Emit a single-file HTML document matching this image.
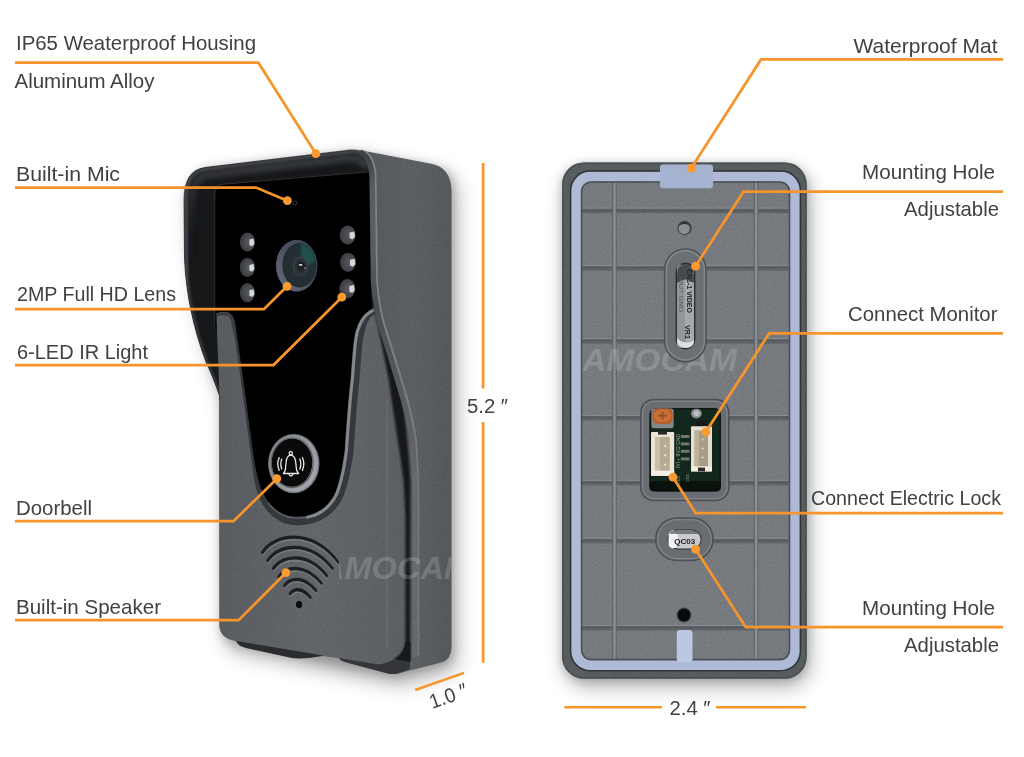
<!DOCTYPE html>
<html lang="en">
<head>
<meta charset="utf-8">
<title>Video Doorbell – Product Details</title>
<style>
  html, body { margin: 0; padding: 0; background: #ffffff; }
  body { width: 1024px; height: 757px; overflow: hidden; position: relative;
         font-family: "Liberation Sans", sans-serif; }
  svg { position: absolute; left: 0; top: 0; display: block; }
  .lbl { font-family: "Liberation Sans", sans-serif; font-size: 20.3px; fill: #414143; }
  .ln { fill: none; stroke: #f7942c; stroke-width: 2.75; stroke-linejoin: miter; stroke-linecap: butt; }
  .dot { fill: #fb9a30; }
</style>
</head>
<body>
<svg width="1024" height="757" viewBox="0 0 1024 757">
  <defs>
    <filter id="blur10" x="-30%" y="-30%" width="160%" height="160%"><feGaussianBlur stdDeviation="10"/></filter>
    <filter id="blur06" x="-30%" y="-10%" width="160%" height="120%"><feGaussianBlur stdDeviation="0.8"/></filter>
    <filter id="blur8" x="-30%" y="-30%" width="160%" height="160%"><feGaussianBlur stdDeviation="8"/></filter>
    <filter id="blur5" x="-30%" y="-30%" width="160%" height="160%"><feGaussianBlur stdDeviation="5"/></filter>
    <filter id="blur2" x="-30%" y="-30%" width="160%" height="160%"><feGaussianBlur stdDeviation="2"/></filter>
    <filter id="blur1" x="-30%" y="-30%" width="160%" height="160%"><feGaussianBlur stdDeviation="1"/></filter>
    <filter id="grain" x="0" y="0" width="100%" height="100%">
      <feTurbulence type="fractalNoise" baseFrequency="0.9" numOctaves="2" seed="3" result="n"/>
      <feColorMatrix in="n" type="matrix" values="0 0 0 0 1  0 0 0 0 1  0 0 0 0 1  0.9 0.9 0.9 0 -1.05" result="a"/>
      <feComposite in="a" in2="SourceGraphic" operator="in"/>
    </filter>
    <linearGradient id="gSide" gradientUnits="userSpaceOnUse" x1="372" y1="0" x2="452" y2="0">
      <stop offset="0" stop-color="#565a5d"/>
      <stop offset="0.5" stop-color="#5b5e62"/>
      <stop offset="1" stop-color="#54575b"/>
    </linearGradient>
    <linearGradient id="gFace" gradientUnits="userSpaceOnUse" x1="219" y1="0" x2="406" y2="0">
      <stop offset="0" stop-color="#585b60"/>
      <stop offset="0.5" stop-color="#626569"/>
      <stop offset="1" stop-color="#5b5e62"/>
    </linearGradient>
    <linearGradient id="gHoodTop" x1="0" y1="0" x2="0" y2="1">
      <stop offset="0" stop-color="#3a3d41"/>
      <stop offset="0.35" stop-color="#25272a"/>
      <stop offset="1" stop-color="#0c0d0e"/>
    </linearGradient>
    <radialGradient id="gLed" cx="0.6" cy="0.5" r="0.75">
      <stop offset="0" stop-color="#5a5c63"/>
      <stop offset="0.5" stop-color="#44464c"/>
      <stop offset="1" stop-color="#2e2f34"/>
    </radialGradient>
    <linearGradient id="gBtn" x1="0" y1="0" x2="1" y2="1">
      <stop offset="0" stop-color="#7d8086"/>
      <stop offset="0.5" stop-color="#95989e"/>
      <stop offset="1" stop-color="#a6a9ae"/>
    </linearGradient>
    <linearGradient id="gLensRing" x1="0" y1="1" x2="1" y2="0">
      <stop offset="0" stop-color="#666b7c"/>
      <stop offset="0.5" stop-color="#4e5264"/>
      <stop offset="1" stop-color="#3e4252"/>
    </linearGradient>
    <filter id="blur04" x="-30%" y="-30%" width="160%" height="160%"><feGaussianBlur stdDeviation="0.5"/></filter>
    <radialGradient id="gLens" cx="0.5" cy="0.5" r="0.5">
      <stop offset="0" stop-color="#2f383d"/>
      <stop offset="0.45" stop-color="#253035"/>
      <stop offset="1" stop-color="#222c31"/>
    </radialGradient>
    <linearGradient id="gRidge" gradientUnits="userSpaceOnUse" x1="0" y1="150" x2="0" y2="480">
      <stop offset="0" stop-color="#3a3d41"/>
      <stop offset="0.12" stop-color="#5a5d61"/>
      <stop offset="0.3" stop-color="#595c60"/>
      <stop offset="0.48" stop-color="#494c50"/>
      <stop offset="1" stop-color="#65686c"/>
    </linearGradient>
    <linearGradient id="gRidgeHi" gradientUnits="userSpaceOnUse" x1="0" y1="260" x2="0" y2="480">
      <stop offset="0" stop-color="#85888c"/>
      <stop offset="1" stop-color="#75787c"/>
    </linearGradient>
  <linearGradient id="gLip" gradientUnits="userSpaceOnUse" x1="0" y1="165" x2="0" y2="235">
      <stop offset="0" stop-color="#33363a"/>
      <stop offset="1" stop-color="#17181a"/>
    </linearGradient>
    <filter id="noise" x="0" y="0" width="100%" height="100%" color-interpolation-filters="sRGB">
      <feTurbulence type="fractalNoise" baseFrequency="0.55" numOctaves="3" seed="7" result="n"/>
      <feColorMatrix in="n" type="matrix" values="0.6 0.6 0.6 0 -0.4  0.6 0.6 0.6 0 -0.4  0.6 0.6 0.6 0 -0.4  0 0 0 0 1"/>
    </filter>
    <clipPath id="clipGrainFront">
      <path d="M219.5,396 L216.5,318 Q216.5,312 221,312 L226.5,312.2 Q233.4,313.5 235,325 L236,332 C240.5,362 247,410 251,441 C255,470 258,485 263,494 C272,512 285,517 296,517 C310,517 326,512 335,494 C340,482 343,465 345,450 C347,420 349,395 351,378 C353,350 354,335 357,328 Q362,313 374,308.5 L377,322 Q382,345 388.8,380 Q393,410 397,435 Q401,460 403.8,483 L405.5,520 L405.5,640 Q405.5,655 385,663 Q380,665 375,664 L236,641 Q220,638 219.5,626 Z"/>
      <path d="M362,150.5 L430,163.6 Q451.5,167 451.5,192 L451.5,648 Q451,660 441,662.5 L398,673.5 L412,662 L412,500 Q412,470 409.5,440 Q406,415 397,385 Q388,356 380,330 Q374,312 373,282 L372,176 Q370,155 362,150.5 Z"/>
    </clipPath>
    <clipPath id="clipGrainBack">
      <rect x="562" y="162.4" width="244.8" height="516.4" rx="22" ry="22"/>
    </clipPath>
  <clipPath id="clipFront"><rect x="339" y="540" width="112.5" height="60"/></clipPath>
  </defs>

  <rect x="0" y="0" width="1024" height="757" fill="#ffffff"/>

  <!-- ===================== SHADOWS ===================== -->
  <g id="shadows">
    <path d="M186,200 Q186,168 208,166 L353,149 L438,165 Q452,168 452,186 L452,650 Q452,662 440,664 L394,676 L236,644 Q220,640 220,626 L220,395 Q186,300 186,200 Z"
          fill="#000" opacity="0.30" filter="url(#blur10)" transform="translate(5,9)"/>
    <path d="M186,200 Q186,168 208,166 L353,149 L438,165 Q452,168 452,186 L452,650 Q452,662 440,664 L394,676 L236,644 Q220,640 220,626 L220,395 Q186,300 186,200 Z"
          fill="#000" opacity="0.17" filter="url(#blur5)" transform="translate(1,2)"/>
    <rect x="562" y="163" width="245" height="516" rx="22" fill="#000" opacity="0.30" filter="url(#blur10)" transform="translate(3,8)"/>
    <rect x="562" y="163" width="245" height="516" rx="22" fill="#000" opacity="0.17" filter="url(#blur5)" transform="translate(0,1)"/>
  </g>

  <!-- ===================== FRONT UNIT ===================== -->
  <g id="front-unit">
    <!-- full silhouette / shell -->
    <path id="shell" d="M183.5,200 Q183.5,170 205,167 L350,149.5 Q356,149 362,150.5 L430,163.6 Q451.5,167 451.5,192 L451.5,648 Q451,660 441,662.5 L398,673.5 Q393,674.5 388,673.5 L345,662 Q340,660 339,658 L323,656 Q305,659 292,657.5 L245,647 Q238,645 236,641 Q220,638 219.5,626 L219,395 Q214,380 205.5,362 Q186,310 184,258 Z"
          fill="url(#gSide)"/>
    <!-- hood interior (dark) -->
    <clipPath id="clipHood"><path d="M184.5,200 Q184.5,170 205,167.6 L350,150.2 Q364,150 370,165 Q374,176 374,190 L374,400 L219,400 L219,395 Q214,380 206,362 Q186.5,310 184.5,258 Z"/></clipPath>
    <path d="M184.5,200 Q184.5,170 205,167.6 L350,150.2 Q364,150 370,165 Q374,176 374,190 L374,400 L219,400 L219,395 Q214,380 206,362 Q186.5,310 184.5,258 Z" fill="#17181a"/>
    <g clip-path="url(#clipHood)">
      <!-- hood top lip -->
      <path d="M190,260 L190,215 Q190,177 207,174.5 L350,157.5 Q362,157 367,168" fill="none" stroke="url(#gLip)" stroke-width="9" filter="url(#blur2)"/>
      <path d="M186.5,300 L186,200 Q186,171.5 205.5,169 L350,151.6 Q360,151.2 366,156" fill="none" stroke="#4d5054" stroke-width="2.6" filter="url(#blur1)"/>
      <path d="M185.7,260 Q188,310 207,362 Q215,380 220,395" fill="none" stroke="#3e4145" stroke-width="2.4" filter="url(#blur1)"/>
    </g>
    <!-- glass panel -->
    <path d="M214.5,196 Q214.5,185 223,184 L369,171.5 L372,330 L372,520 L230,520 L230,330 L214.5,330 Z" fill="#000000"/>
    <path d="M214.8,330 L214.8,196 Q214.8,185 223,184.2 L369,171.8" fill="none" stroke="#3a3d42" stroke-width="0.9" opacity="0.9"/>

    <!-- face (raised front) with U cut-out -->
    <path id="face" d="M219.5,396 L216.5,318 Q216.5,312 221,312 L226.5,312.2 Q233.4,313.5 235,325 L236,332 C240.5,362 247,410 251,441 C255,470 258,485 263,494 C272,512 285,517 296,517 C310,517 326,512 335,494 C340,482 343,465 345,450 C347,420 349,395 351,378 C353,350 354,335 357,328 Q362,313 374,308.5 L377,322 Q382,345 388.8,380 Q393,410 397,435 Q401,460 403.8,483 L405.5,520 L405.5,640 Q405.5,655 385,663 Q380,665 375,664 L236,641 Q220,638 219.5,626 Z"
          fill="url(#gFace)"/>
    <!-- groove shadow around U cut-out -->
    <!--GEN:ugroove-->
    <path d="M226.6,311.8 L227.8,312.1 L229.0,312.7 L230.1,313.3 L231.1,314.2 L232.0,315.2 L232.8,316.5 L233.5,317.8 L234.1,319.4 L234.6,321.1 L235.1,322.9 L235.4,324.9 L235.5,325.4 L235.5,325.8 L235.6,326.2 L235.7,326.7 L235.7,327.2 L235.8,327.7 L235.9,328.2 L235.9,328.7 L236.0,329.2 L236.1,329.7 L236.1,330.2 L236.2,330.6 L236.3,331.1 L236.3,331.5 L236.4,331.9 L237.3,338.2 L238.3,344.8 L239.3,351.8 L240.3,359.1 L241.4,366.6 L242.5,374.3 L243.5,382.1 L244.6,390.0 L245.7,397.8 L246.7,405.6 L247.7,413.2 L248.7,420.6 L249.7,427.7 L250.6,434.5 L251.4,440.9 L252.2,446.6 L252.9,451.8 L253.7,456.7 L254.4,461.3 L255.2,465.6 L255.9,469.5 L256.6,473.2 L257.4,476.6 L258.2,479.7 L258.9,482.6 L259.8,485.2 L260.6,487.7 L261.5,489.9 L262.4,491.9 L263.4,493.8 L265.2,497.2 L267.1,500.3 L269.1,503.1 L271.2,505.5 L273.4,507.7 L275.6,509.6 L277.8,511.2 L280.1,512.6 L282.4,513.7 L284.7,514.7 L287.0,515.4 L289.3,515.9 L291.6,516.3 L293.8,516.5 L296.0,516.6 L298.8,516.5 L301.6,516.3 L304.5,515.9 L307.4,515.4 L310.2,514.7 L313.0,513.7 L315.8,512.6 L318.5,511.2 L321.2,509.5 L323.7,507.7 L326.2,505.5 L328.5,503.0 L330.7,500.3 L332.8,497.2 L334.6,493.8 L335.6,491.4 L336.5,488.8 L337.4,486.1 L338.2,483.4 L339.0,480.5 L339.7,477.6 L340.4,474.6 L341.1,471.5 L341.7,468.4 L342.2,465.3 L342.8,462.2 L343.3,459.1 L343.7,456.0 L344.2,453.0 L344.6,450.0 L345.0,444.0 L345.4,438.2 L345.8,432.6 L346.2,427.1 L346.6,421.7 L347.0,416.6 L347.4,411.5 L347.8,406.7 L348.2,402.0 L348.6,397.5 L349.0,393.2 L349.4,389.1 L349.8,385.2 L350.2,381.5 L350.6,378.0 L351.0,372.5 L351.4,367.5 L351.7,362.7 L352.0,358.2 L352.4,354.1 L352.7,350.3 L353.1,346.7 L353.4,343.5 L353.8,340.5 L354.2,337.8 L354.6,335.3 L355.0,333.1 L355.5,331.1 L356.0,329.4 L356.6,327.9 L357.6,325.2 L358.7,322.7 L359.9,320.4 L361.2,318.3 L362.7,316.3 L364.2,314.5 L365.9,312.9 L367.7,311.4 L369.7,310.1 L371.7,309.0 L373.8,308.1 L376.2,313.6 L374.3,314.5 L372.8,315.4 L371.5,316.5 L370.3,317.8 L369.2,319.2 L368.2,320.7 L367.4,322.4 L366.7,324.3 L366.0,326.2 L365.4,328.4 L364.8,330.9 L364.4,332.2 L364.1,333.5 L363.8,335.1 L363.4,337.0 L363.1,339.2 L362.7,341.7 L362.3,344.5 L362.0,347.7 L361.7,351.1 L361.3,354.9 L361.0,359.0 L360.7,363.4 L360.3,368.1 L360.0,373.2 L359.6,378.8 L359.1,382.5 L358.8,386.1 L358.4,390.0 L358.0,394.1 L357.6,398.3 L357.2,402.8 L356.8,407.4 L356.4,412.3 L356.0,417.3 L355.6,422.4 L355.2,427.8 L354.8,433.2 L354.4,438.9 L354.0,444.7 L353.6,450.8 L353.1,454.2 L352.7,457.4 L352.2,460.5 L351.6,463.7 L351.1,466.9 L350.5,470.1 L349.9,473.3 L349.2,476.5 L348.5,479.7 L347.7,482.8 L346.9,485.8 L346.0,488.8 L345.0,491.7 L344.0,494.6 L342.7,497.8 L340.5,501.9 L338.0,505.6 L335.3,508.9 L332.4,512.0 L329.4,514.6 L326.2,517.0 L323.0,519.0 L319.6,520.7 L316.2,522.1 L312.8,523.3 L309.3,524.1 L305.9,524.7 L302.6,525.1 L299.2,525.3 L296.0,525.2 L293.3,525.0 L290.5,524.6 L287.7,524.0 L284.8,523.2 L282.0,522.1 L279.2,520.7 L276.5,519.1 L273.8,517.2 L271.2,515.1 L268.8,512.6 L266.5,509.9 L264.3,506.9 L262.3,503.6 L260.4,500.0 L258.8,496.2 L257.9,494.1 L257.1,491.7 L256.4,489.2 L255.7,486.6 L255.1,483.7 L254.5,480.7 L253.9,477.4 L253.4,473.9 L252.9,470.1 L252.4,466.1 L251.8,461.7 L251.2,457.1 L250.6,452.2 L249.8,446.9 L249.0,441.3 L248.2,434.8 L247.3,428.0 L246.4,420.9 L245.4,413.5 L244.4,405.9 L243.3,398.1 L242.2,390.3 L241.2,382.5 L240.1,374.7 L239.0,367.0 L238.0,359.5 L236.9,352.2 L235.9,345.2 L234.9,338.5 L234.0,332.3 L234.0,331.9 L233.9,331.4 L233.8,331.0 L233.8,330.5 L233.7,330.0 L233.6,329.5 L233.6,329.0 L233.5,328.5 L233.4,328.0 L233.3,327.5 L233.3,327.1 L233.2,326.6 L233.1,326.1 L233.1,325.7 L233.0,325.3 L232.7,323.4 L232.3,321.7 L231.8,320.1 L231.3,318.8 L230.7,317.7 L230.1,316.7 L229.4,315.9 L228.7,315.3 L227.9,314.8 L227.1,314.4 L226.0,314.1 Z" fill="#34373b"/>
    <path d="M268.7,503.4 L270.8,505.9 L272.9,508.1 L275.1,510.1 L277.4,511.8 L279.7,513.3 L282.0,514.6 L284.4,515.6 L286.7,516.4 L289.1,517.1 L291.4,517.5 L293.7,517.8 L296.0,518.0 L298.9,518.0 L301.8,517.9 L304.8,517.6 L307.8,517.1 L310.7,516.4" fill="none" stroke="#5c5f63" stroke-width="1.6" stroke-linecap="round"/>
    <path d="M307.8,517.1 L310.7,516.4 L313.7,515.5 L316.6,514.3 L319.5,512.9 L322.3,511.2 L325.0,509.2 L327.6,506.9 L330.0,504.3 L332.3,501.4 L334.4,498.2 L336.4,494.7 L337.4,492.1 L338.4,489.4 L339.2,486.7 L340.1,483.9 L340.9,481.0 L341.6,478.0 L342.3,475.0 L343.0,471.9 L343.6,468.8 L344.2,465.7 L344.7,462.5 L345.2,459.4 L345.7,456.3 L346.1,453.2 L346.5,450.1 L346.9,444.2 L347.3,438.4 L347.7,432.7 L348.1,427.2 L348.5,421.9 L348.9,416.7 L349.3,411.7 L349.7,406.9 L350.1,402.2 L350.5,397.7 L350.9,393.4 L351.3,389.3 L351.7,385.4 L352.1,381.7 L352.5,378.1 L352.9,372.7 L353.3,367.6 L353.6,362.8 L354.0,358.4 L354.3,354.3 L354.7,350.5 L355.0,346.9 L355.3,343.7 L355.7,340.8 L356.1,338.1 L356.5,335.7 L356.9,333.5 L357.4,331.6 L357.9,330.0 L358.5,328.5 L359.4,325.9 L360.4,323.6 L361.6,321.4 L362.8,319.3 L364.2,317.5 L365.7,315.8 L367.2,314.3 L368.9,313.0 L370.7,311.8 L372.5,310.8 L374.6,309.9" fill="none" stroke="#84878b" stroke-width="3" stroke-linecap="round"/>
    <!--/GEN:ugroove-->

    <path d="M217.2,314.2 L226.3,313.8 Q232.4,315 233.6,325.5 L234.6,332" fill="none" stroke="#3a3d41" stroke-width="3" stroke-linecap="round"/>
    <!-- dark groove between face and shell -->
    <path d="M377,322 Q382,345 388.8,380 Q393,410 397,435 Q401,460 403.8,483 L405.5,520 L405.5,640 Q405.5,652 395,659 L398,664 L410,660 L410.5,483 Q409,450 401,383 Q392,355 384.5,328 Q379,310 376.5,280 L374,308.5 Z" fill="#17181b" filter="url(#blur06)"/>
    <!-- shell ridge highlight -->
    <path d="M361,150.5 Q372,153 375,172 L376.5,280 Q379,310 385,328 Q394,356 402,383 Q412,415 415.5,440 Q418,470 418,500 L418,655"
          fill="none" stroke="url(#gRidgeHi)" stroke-width="2.8" opacity="0.9"/>
    <path d="M360,152.5 Q370.5,156 372.2,176 L373.5,282 Q376,312 382,330 Q391,358 399,385 Q409,417 412.5,442 Q415,470 415,500 L415,657"
          fill="none" stroke="url(#gRidge)" stroke-width="5.4" opacity="1"/>
    <!-- subtle vertical seam on face -->
    <path d="M387,400 L387,648" fill="none" stroke="#8a8d92" stroke-width="0.7" opacity="0.55"/>

    <!-- base pieces under face -->
    <path d="M236,641 L323,655.5 Q305,659.5 292,658 L246,648 Q238,646 236,641 Z" fill="#2a2c2f"/>
    <path d="M339,658 L375,664 Q382,665.5 395,659 L410,660 L410,669 L398,673.5 Q393,674.5 388,673.5 L345,662 Q340,660.5 339,658 Z" fill="#34363a"/>
    <path d="M395,659 Q404,654 405.5,642 L410.5,642 L410.5,662 Z" fill="#17181a"/>
    <!-- surface grain -->
    <g clip-path="url(#clipGrainFront)" style="mix-blend-mode:overlay" opacity="0.09">
      <rect x="180" y="145" width="275" height="535" filter="url(#noise)"/>
    </g>
    <!-- ====== front details ====== -->
    <!-- mic hole -->
    <circle cx="295" cy="203" r="1.9" fill="none" stroke="#3a3c40" stroke-width="0.9"/>
    <!-- IR LEDs -->
    <g id="leds">
      <ellipse cx="247.4" cy="242" rx="7.6" ry="9.6" fill="url(#gLed)"/>
      <ellipse cx="247.4" cy="267.4" rx="7.6" ry="9.6" fill="url(#gLed)"/>
      <ellipse cx="247.4" cy="292.7" rx="7.6" ry="9.6" fill="url(#gLed)"/>
      <ellipse cx="347.6" cy="235" rx="8" ry="9.6" fill="url(#gLed)"/>
      <ellipse cx="348" cy="262.3" rx="8" ry="9.6" fill="url(#gLed)"/>
      <ellipse cx="347.3" cy="288.6" rx="8" ry="9.6" fill="url(#gLed)"/>
      <g fill="#d4d6da" filter="url(#blur04)">
        <path d="M249.4,239.6 l4.2,-1 l0.8,5.2 l-2.4,2.6 l-2.6,-1.4 Z"/>
        <path d="M249.4,265 l4.2,-1 l0.8,5.2 l-2.4,2.6 l-2.6,-1.4 Z"/>
        <path d="M249.4,290.3 l4.2,-1 l0.8,5.2 l-2.4,2.6 l-2.6,-1.4 Z"/>
        <path d="M349.6,232.4 l4.6,-1 l0.8,5.4 l-2.6,2.6 l-2.8,-1.4 Z"/>
        <path d="M350,259.8 l4.6,-1 l0.8,5.4 l-2.6,2.6 l-2.8,-1.4 Z"/>
        <path d="M349.3,286 l4.6,-1 l0.8,5.4 l-2.6,2.6 l-2.8,-1.4 Z"/>
      </g>
    </g>
    <!-- camera lens -->
    <ellipse cx="296.7" cy="265.8" rx="20.7" ry="26" fill="#42465a"/>
    <ellipse cx="296.2" cy="265.6" rx="20" ry="25.4" fill="url(#gLensRing)"/>
    <ellipse cx="299.4" cy="265.2" rx="17" ry="22.2" fill="url(#gLens)"/>
    <path d="M301,243.4 A16.6,21.8 0 0 1 315.6,262 L305,265.5 Q299.5,255 301,243.4 Z" fill="#1f6a5c" opacity="0.6" filter="url(#blur1)"/>
    <ellipse cx="300.6" cy="266.4" rx="7.2" ry="9" fill="#2c3236" stroke="#454b50" stroke-width="0.8"/>
    <ellipse cx="301" cy="266.4" rx="4" ry="5" fill="#1b2023"/>
    <rect x="298.8" y="264" width="3.6" height="1.7" rx="0.8" fill="#dfe1e4" opacity="0.9"/>
    <rect x="304" y="267.6" width="2.2" height="1.1" rx="0.5" fill="#aeb2b6" opacity="0.7"/>
    <!-- doorbell button -->
    <ellipse cx="293.8" cy="463.6" rx="25.7" ry="29.6" fill="#6f7278"/>
    <ellipse cx="293.5" cy="463.3" rx="24.6" ry="28.5" fill="url(#gBtn)"/>
    <ellipse cx="292" cy="462.6" rx="20.4" ry="24.2" fill="#0a0a0b"/>
    <ellipse cx="292.2" cy="462.8" rx="21" ry="24.8" fill="none" stroke="#5d6065" stroke-width="1.2"/>
    <g fill="none" stroke="#e9e9eb" stroke-width="1.3" stroke-linecap="round" stroke-linejoin="round">
      <path d="M283.4,473.5 L298.6,473.5 Q297.2,472.2 296.5,469.5 L295.6,461.5 Q294.8,455.6 290.8,455.2 Q286.9,455.6 286.2,461.5 L285.4,469.5 Q284.8,472.2 283.4,473.5 Z"/>
      <circle cx="290.8" cy="453.2" r="1.6"/>
      <path d="M289.2,474.6 Q291,477.2 292.8,474.6"/>
      <path d="M281.8,459 Q279.8,464 281.8,469"/>
      <path d="M279.2,457.6 Q276.4,464 279.2,470.4"/>
      <path d="M299.8,459 Q301.8,464 299.8,469"/>
      <path d="M302.4,457.6 Q305.2,464 302.4,470.4"/>
    </g>
    <!-- speaker grille -->
    <g id="speaker" fill="none" stroke-linecap="round">
      <g stroke="#1d1f22" stroke-width="3.3">
        <path d="M262.6,552.4 C275,533 312,528 337.6,562"/>
        <path d="M268,560.4 C279,543.5 310,540 332,568.4"/>
        <path d="M273.6,568.4 C283,554.5 308,552 326.4,575.8"/>
        <path d="M279,576.6 C287,565.5 306,564 321,583.2"/>
        <path d="M284.8,585.4 C290.5,577 304,576 315.6,590.6"/>
        <path d="M290.4,593.6 C294.5,588 302.5,587.6 310,597.6"/>
      </g>
      <g stroke="#84878c" stroke-width="1.1" opacity="0.75" transform="translate(0.3,2.7)">
        <path d="M262.6,552.4 C275,533 312,528 337.6,562"/>
        <path d="M268,560.4 C279,543.5 310,540 332,568.4"/>
        <path d="M273.6,568.4 C283,554.5 308,552 326.4,575.8"/>
        <path d="M279,576.6 C287,565.5 306,564 321,583.2"/>
        <path d="M284.8,585.4 C290.5,577 304,576 315.6,590.6"/>
        <path d="M290.4,593.6 C294.5,588 302.5,587.6 310,597.6"/>
      </g>
    </g>
    <ellipse cx="299.1" cy="604.6" rx="3.2" ry="3.8" fill="#0b0c0d"/>
    <ellipse cx="299.1" cy="604.6" rx="4" ry="4.6" fill="none" stroke="#6f7277" stroke-width="0.8" opacity="0.7"/>
    <!-- watermark -->
    <text x="321" y="579" textLength="150" lengthAdjust="spacingAndGlyphs" font-family="Liberation Sans, sans-serif" font-weight="bold" font-style="italic" font-size="31" fill="#ffffff" opacity="0.17" clip-path="url(#clipFront)">AMOCAM</text>
  </g>

  <!-- ===================== BACK UNIT ===================== -->
  <g id="back-unit">
    <!-- outer frame -->
    <rect x="562" y="162.4" width="244.8" height="516.4" rx="22" ry="22" fill="#575c5f"/>
    <rect x="563" y="163.4" width="242.8" height="514.4" rx="21" ry="21" fill="none" stroke="#4a4f52" stroke-width="1.6" opacity="0.9"/>
    <!-- inner plate -->
    <rect x="578" y="179" width="214" height="484" rx="12" ry="12" fill="#767a7e"/>
    <!-- ribs -->
    <rect x="581" y="208.6" width="207.5" height="3.4" fill="#595d61"/>
    <rect x="581" y="207.6" width="207.5" height="1" fill="#8d9195" opacity="0.8"/>
    <rect x="581" y="212.0" width="207.5" height="1.3" fill="#54585c" opacity="0.6"/>
    <rect x="581" y="266.1" width="207.5" height="3.4" fill="#595d61"/>
    <rect x="581" y="265.1" width="207.5" height="1" fill="#8d9195" opacity="0.8"/>
    <rect x="581" y="269.5" width="207.5" height="1.3" fill="#54585c" opacity="0.6"/>
    <rect x="581" y="339.1" width="207.5" height="3.4" fill="#595d61"/>
    <rect x="581" y="338.1" width="207.5" height="1" fill="#8d9195" opacity="0.8"/>
    <rect x="581" y="342.5" width="207.5" height="1.3" fill="#54585c" opacity="0.6"/>
    <rect x="581" y="416.0" width="207.5" height="3.4" fill="#595d61"/>
    <rect x="581" y="415.0" width="207.5" height="1" fill="#8d9195" opacity="0.8"/>
    <rect x="581" y="419.4" width="207.5" height="1.3" fill="#54585c" opacity="0.6"/>
    <rect x="581" y="480.8" width="207.5" height="3.4" fill="#595d61"/>
    <rect x="581" y="479.8" width="207.5" height="1" fill="#8d9195" opacity="0.8"/>
    <rect x="581" y="484.2" width="207.5" height="1.3" fill="#54585c" opacity="0.6"/>
    <rect x="581" y="538.7" width="207.5" height="3.4" fill="#595d61"/>
    <rect x="581" y="537.7" width="207.5" height="1" fill="#8d9195" opacity="0.8"/>
    <rect x="581" y="542.1" width="207.5" height="1.3" fill="#54585c" opacity="0.6"/>
    <rect x="581" y="626.0" width="207.5" height="3.4" fill="#595d61"/>
    <rect x="581" y="625.0" width="207.5" height="1" fill="#8d9195" opacity="0.8"/>
    <rect x="581" y="629.4" width="207.5" height="1.3" fill="#54585c" opacity="0.6"/>
    <rect x="612.0" y="182" width="4.8" height="477" fill="#606468"/>
    <rect x="613.3" y="182" width="2.4" height="477" fill="#8a8e92"/>
    <rect x="753.6" y="182" width="4.8" height="477" fill="#606468"/>
    <rect x="754.9" y="182" width="2.4" height="477" fill="#8a8e92"/>
    <!-- surface grain -->
    <g clip-path="url(#clipGrainBack)" style="mix-blend-mode:overlay" opacity="0.09">
      <rect x="560" y="160" width="250" height="522" filter="url(#noise)"/>
    </g>
    <!-- watermark -->
    <text x="582" y="370.5" textLength="155" lengthAdjust="spacingAndGlyphs" font-family="Liberation Sans, sans-serif" font-weight="bold" font-style="italic" font-size="31" fill="#ffffff" opacity="0.16">AMOCAM</text>
    <!-- top screw hole -->
    <circle cx="684.6" cy="228" r="7.2" fill="#3f4245"/>
    <circle cx="684.2" cy="228.6" r="5.6" fill="#8b8e92"/>
    <path d="M679,226 A6,6 0 0 1 690,226 A7,5 0 0 0 679,226 Z" fill="#2e3033"/>
    <!-- slot -->
    <rect x="664.6" y="249" width="41.4" height="112.7" rx="20.7" ry="20.7" fill="#6b6f73" stroke="#4d5154" stroke-width="1.5"/>
    <rect x="666.3" y="250.7" width="38" height="109.3" rx="19" ry="19" fill="none" stroke="#8b8f93" stroke-width="1.2" opacity="0.9"/>
    <rect x="675.6" y="262.5" width="19.8" height="87" rx="9.9" ry="9.9" fill="#2c2e31"/>
    <rect x="677" y="264.5" width="17" height="83.5" rx="8.5" ry="8.5" fill="#a7a9ad"/>
    <rect x="677" y="264.5" width="8" height="83.5" rx="4" ry="4" fill="#8e9196" opacity="0.8"/>
    <path d="M677,275 Q677,264.5 685.5,264.5 Q694,264.5 694,275 L694,283 Q686,276 677,283 Z" fill="#3a3c40" opacity="0.85"/>
    <path d="M677,338 Q685,346 694,340 L694,341 Q694,348 685.5,348 Q677,348 677,341 Z" fill="#e4e5e8" opacity="0.9"/>
    <text transform="translate(686.5,269) rotate(90)" font-family="Liberation Sans, sans-serif" font-weight="bold" font-size="6.5" fill="#222" textLength="44" lengthAdjust="spacingAndGlyphs">CN1-1 VIDEO</text>
    <text transform="translate(679,278) rotate(90)" font-family="Liberation Sans, sans-serif" font-size="5.5" fill="#555" textLength="34" lengthAdjust="spacingAndGlyphs">OUT GND</text>
    <text transform="translate(684.5,325) rotate(90)" font-family="Liberation Sans, sans-serif" font-weight="bold" font-size="7" fill="#222" textLength="14" lengthAdjust="spacingAndGlyphs">VR1</text>
    <!-- connector window -->
    <rect x="640.8" y="399.5" width="88" height="101" rx="13" ry="13" fill="#696d71" stroke="#4d5154" stroke-width="1.6"/>
    <rect x="642.6" y="401.3" width="84.4" height="97.4" rx="11.5" ry="11.5" fill="none" stroke="#878b8f" stroke-width="1.1" opacity="0.9"/>
    <rect x="649.3" y="408" width="71.7" height="83.5" rx="6.5" ry="6.5" fill="#0c1a12"/>
    <rect x="651" y="409.5" width="68.3" height="80.5" rx="5" ry="5" fill="#13281c"/>
    <rect x="649.3" y="481" width="71.7" height="10.5" rx="4" ry="4" fill="#050806" opacity="0.7"/>
    <!-- orange part -->
    <rect x="651.4" y="408.6" width="22.2" height="19.6" rx="2.5" ry="2.5" fill="#86878a"/>
    <rect x="652.6" y="408.4" width="20" height="15.6" rx="5" ry="5" fill="#b65f2c"/>
    <ellipse cx="662.6" cy="415.6" rx="8.6" ry="6.6" fill="#c96f38"/>
    <path d="M658,415.6 H667 M662.6,411.4 V419.8" stroke="#8f4519" stroke-width="1.7" fill="none" opacity="0.8"/>
    <!-- small capacitor -->
    <ellipse cx="696.4" cy="413.6" rx="5.4" ry="4.8" fill="#8d9096"/>
    <ellipse cx="696.6" cy="413.2" rx="3.2" ry="2.8" fill="#b9bcc1"/>
    <rect x="695.5" y="420.6" width="12" height="5.4" fill="#17191a"/>
    <!-- silk-screen -->
    <text transform="translate(679.8,468) rotate(-90)" font-family="Liberation Sans, sans-serif" font-size="4.6" fill="#cfd6cf" opacity="0.75" textLength="34" lengthAdjust="spacingAndGlyphs">IVI + 9V/2 GND</text>
    <text transform="translate(680,484) rotate(-90)" font-family="Liberation Sans, sans-serif" font-size="4" fill="#cfd6cf" opacity="0.6">CN3</text>
    <text transform="translate(689,482) rotate(-90)" font-family="Liberation Sans, sans-serif" font-size="4" fill="#cfd6cf" opacity="0.6">CN5</text>
    <!-- left white connector -->
    <rect x="651" y="432" width="23.2" height="43.8" rx="1.2" fill="#ece5d6"/>
    <rect x="655" y="437" width="14.8" height="34.4" fill="#b8ab94"/>
    <rect x="655" y="437" width="5" height="34.4" fill="#cbbfa9"/>
    <rect x="658" y="431.4" width="9" height="3.2" fill="#2a2a28"/>
    <rect x="651" y="470.6" width="23.2" height="5.2" fill="#f4efe4"/>
    <g fill="#efe9dc"><circle cx="665.2" cy="446" r="1.1"/><circle cx="665.2" cy="455.4" r="1.1"/><circle cx="665.2" cy="464.8" r="1.1"/></g>
    <!-- right white connector -->
    <rect x="691" y="426.2" width="21" height="45.2" rx="1.2" fill="#e6dfd0"/>
    <rect x="694.6" y="430.6" width="13.4" height="36" fill="#a99d88"/>
    <rect x="694.6" y="430.6" width="4.4" height="36" fill="#bdb19b"/>
    <rect x="691" y="466.4" width="21" height="5" fill="#f1ecdf"/>
    <rect x="698" y="467.6" width="7" height="3.8" fill="#2a2a28"/>
    <g fill="#e6dfd0"><circle cx="702.6" cy="439.6" r="1"/><circle cx="702.6" cy="448.6" r="1"/><circle cx="702.6" cy="457.6" r="1"/></g>
    <!-- smd pads -->
    <rect x="680.8" y="435" width="8.6" height="3" fill="#74766b"/>
    <rect x="680.8" y="442.4" width="8.6" height="3" fill="#74766b"/>
    <rect x="680.8" y="449.8" width="8.6" height="3" fill="#74766b"/>
    <rect x="680.8" y="457.4" width="8.6" height="3" fill="#74766b"/>
    <!-- lower oval -->
    <rect x="655.8" y="518" width="57.2" height="42.4" rx="21" ry="21" fill="#696d71" stroke="#4d5154" stroke-width="1.5"/>
    <rect x="657.6" y="519.8" width="53.6" height="38.8" rx="19.4" ry="19.4" fill="none" stroke="#878b8f" stroke-width="1.1" opacity="0.9"/>
    <rect x="667.5" y="529.5" width="34" height="20" rx="10" ry="10" fill="#2b2d30"/>
    <rect x="668.6" y="530.6" width="32" height="17.8" rx="8.9" ry="8.9" fill="#c9cbcf"/>
    <rect x="668.6" y="530.6" width="9" height="17.8" rx="4.5" fill="#f3f3f5"/>
    <path d="M671,531 H699 Q700,532 700.3,534 H669.5 Z" fill="#55575b" opacity="0.7"/>
    <text x="674.2" y="544" font-family="Liberation Sans, sans-serif" font-weight="bold" font-size="7.6" fill="#1d1d1f" textLength="21" lengthAdjust="spacingAndGlyphs">QC03</text>
    <!-- bottom hole -->
    <circle cx="684" cy="615" r="7.4" fill="#3e4144"/>
    <circle cx="684" cy="615" r="6.2" fill="#08090a"/>
    <!-- gasket -->
    <rect x="576.1" y="176.5" width="218.9" height="488.7" rx="14.5" ry="14.5" fill="none" stroke="#aebad6" stroke-width="10.2"/>
    <rect x="570.6" y="171" width="229.8" height="499.7" rx="19.5" ry="19.5" fill="none" stroke="#2c2f32" stroke-width="1.6" opacity="0.9"/>
    <rect x="581.6" y="182" width="207.9" height="477.6" rx="9.5" ry="9.5" fill="none" stroke="#45484b" stroke-width="1.6" opacity="0.9"/>
    <!-- tabs -->
    <rect x="660" y="164.4" width="53" height="23.8" rx="3" ry="3" fill="#a5b3d0"/>
    <rect x="676.8" y="630" width="15.7" height="32" rx="3" ry="3" fill="#bcc8e0"/>
  </g>

  <!-- ===================== CALLOUT LINES ===================== -->
  <g id="callouts">
    <!-- left side -->
    <path class="ln" d="M15,62.7 L258.4,62.7 L315.9,153.7"/>
    <path class="ln" d="M15,187.5 L256,187.5 L287.4,200.7"/>
    <path class="ln" d="M15,309.2 L263.9,309.2 L287,286.3"/>
    <path class="ln" d="M15,365 L273.5,365 L341.8,297.2"/>
    <path class="ln" d="M15,521.2 L233.5,521.2 L276.8,478.7"/>
    <path class="ln" d="M15,620.2 L238.6,620.2 L285.9,572.7"/>
    <circle class="dot" cx="315.9" cy="153.7" r="4.4"/>
    <circle class="dot" cx="287.4" cy="200.7" r="4.4"/>
    <circle class="dot" cx="287" cy="286.3" r="4.4"/>
    <circle class="dot" cx="341.8" cy="297.2" r="4.4"/>
    <circle class="dot" cx="276.8" cy="478.7" r="4.4"/>
    <circle class="dot" cx="285.9" cy="572.7" r="4.4"/>
    <!-- right side -->
    <path class="ln" d="M1003,59.4 L761,59.4 L691.2,168.2"/>
    <path class="ln" d="M1003,191.7 L743.5,191.7 L695.6,266.2"/>
    <path class="ln" d="M1003,333.3 L769.2,333.3 L706,431.8"/>
    <path class="ln" d="M1003,513 L695.6,513 L673,477.2"/>
    <path class="ln" d="M1003,627.2 L745.7,627.2 L695.6,549.2"/>
    <circle class="dot" cx="691.2" cy="168.2" r="4.4"/>
    <circle class="dot" cx="695.6" cy="266.2" r="4.4"/>
    <circle class="dot" cx="706" cy="431.8" r="4.4"/>
    <circle class="dot" cx="673" cy="477.2" r="4.4"/>
    <circle class="dot" cx="695.6" cy="549.2" r="4.4"/>
    <!-- dimensions -->
    <path class="ln" d="M483.1,163 L483.1,388.5 M483.1,421.9 L483.1,662.7" style="stroke-width:2.7"/>
    <path class="ln" d="M415.2,690 L464,672.9" style="stroke-width:2.5"/>
    <path class="ln" d="M564.4,707.3 L662,707.3 M716,707.3 L806,707.3" style="stroke-width:2.5"/>
  </g>

  <!-- ===================== LABELS ===================== -->
  <g id="labels">
    <text class="lbl" x="16" y="49.5" textLength="240" lengthAdjust="spacingAndGlyphs">IP65 Weaterproof Housing</text>
    <text class="lbl" x="14.5" y="87.5" textLength="140" lengthAdjust="spacingAndGlyphs">Aluminum Alloy</text>
    <text class="lbl" x="16" y="180.5" textLength="104" lengthAdjust="spacingAndGlyphs">Built-in Mic</text>
    <text class="lbl" x="17" y="301" textLength="159" lengthAdjust="spacingAndGlyphs">2MP Full HD Lens</text>
    <text class="lbl" x="17" y="359.3" textLength="131" lengthAdjust="spacingAndGlyphs">6-LED IR Light</text>
    <text class="lbl" x="16" y="514.6" textLength="76" lengthAdjust="spacingAndGlyphs">Doorbell</text>
    <text class="lbl" x="16" y="613.6" textLength="145" lengthAdjust="spacingAndGlyphs">Built-in Speaker</text>
    <text class="lbl" x="853.5" y="52.8" textLength="144" lengthAdjust="spacingAndGlyphs">Waterproof Mat</text>
    <text class="lbl" x="862" y="179.4" textLength="133" lengthAdjust="spacingAndGlyphs">Mounting Hole</text>
    <text class="lbl" x="904" y="216" textLength="95" lengthAdjust="spacingAndGlyphs">Adjustable</text>
    <text class="lbl" x="848" y="320.5" textLength="149.5" lengthAdjust="spacingAndGlyphs">Connect Monitor</text>
    <text class="lbl" x="811" y="504.7" textLength="190" lengthAdjust="spacingAndGlyphs">Connect Electric Lock</text>
    <text class="lbl" x="862" y="615" textLength="133" lengthAdjust="spacingAndGlyphs">Mounting Hole</text>
    <text class="lbl" x="904" y="652.4" textLength="95" lengthAdjust="spacingAndGlyphs">Adjustable</text>
    <text class="lbl" x="467" y="412.5" textLength="41" lengthAdjust="spacingAndGlyphs">5.2 ″</text>
    <text class="lbl" x="669.5" y="715.4" textLength="41" lengthAdjust="spacingAndGlyphs">2.4 ″</text>
    <text class="lbl" transform="translate(432.2,709) rotate(-19.5)" x="0" y="0" textLength="39" lengthAdjust="spacingAndGlyphs">1.0 ″</text>
  </g>
</svg>
</body>
</html>
